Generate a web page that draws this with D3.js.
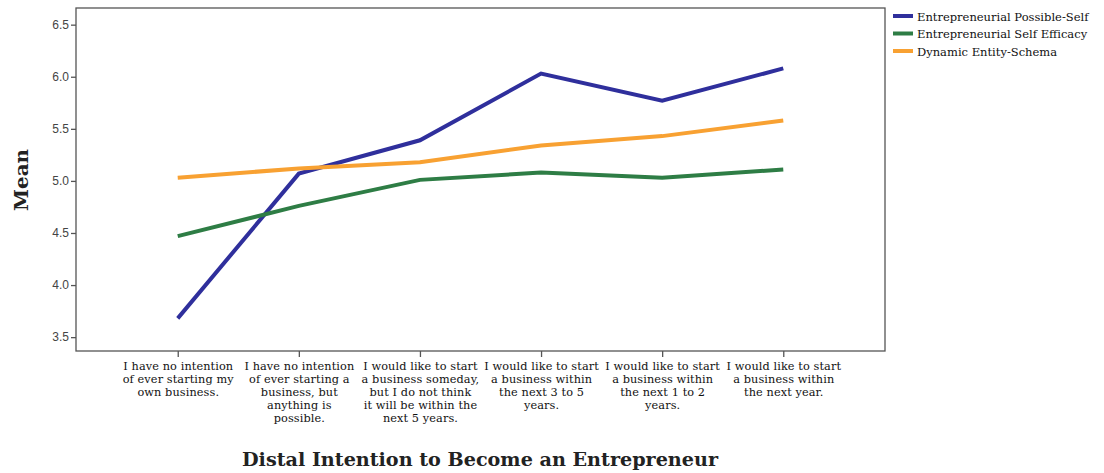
<!DOCTYPE html>
<html>
<head>
<meta charset="utf-8">
<script src="https://cdn.jsdelivr.net/npm/d3@7"></script>
<style>
  body { margin: 0; background: #fff; }
  svg { display: block; }
</style>
</head>
<body>
<div id="chart"></div>
<script>
var categories = [
  ["I have no intention", "of ever starting my", "own business."],
  ["I have no intention", "of ever starting a", "business, but", "anything is", "possible."],
  ["I would like to start", "a business someday,", "but I  do not think", "it will be within the", "next 5 years."],
  ["I would like to start", "a business within", "the next 3 to 5", "years."],
  ["I would like to start", "a business within", "the next 1 to 2", "years."],
  ["I would like to start", "a business within", "the next year."]
];
var seriesNames = ["Entrepreneurial Possible-Self", "Entrepreneurial Self Efficacy", "Dynamic Entity-Schema"];
var possibleSelf = [3.68, 5.07, 5.39, 6.03, 5.77, 6.08];
var selfEfficacy = [4.47, 4.76, 5.01, 5.08, 5.03, 5.11];
var entitySchema = [5.03, 5.12, 5.18, 5.34, 5.43, 5.58];
var yTicks = [3.5, 4.0, 4.5, 5.0, 5.5, 6.0, 6.5];
var colors = ["#2f2f9c", "#2e7d45", "#f8a132"];

var allSeries = [possibleSelf, selfEfficacy, entitySchema];

var width = 1104, height = 473;
var plot = {left: 76, right: 885, top: 8, bottom: 351};
var serif = "DejaVu Serif, serif";

var svg = d3.select("#chart")
  .append("svg")
    .attr("width", width)
    .attr("height", height);

var x = d3.scalePoint()
  .domain(d3.range(categories.length))
  .range([plot.left, plot.right])
  .padding(0.84);

var y = d3.scaleLinear()
  .domain([3.367, 6.66])
  .range([plot.bottom, plot.top]);

// frame
svg.append("rect")
  .attr("x", plot.left)
  .attr("y", plot.top)
  .attr("width", plot.right - plot.left)
  .attr("height", plot.bottom - plot.top)
  .attr("fill", "#fff")
  .attr("stroke", "#555")
  .attr("stroke-width", 1.3);

// y axis
var yAxis = svg.append("g")
  .attr("transform", "translate(" + plot.left + ",0)")
  .call(d3.axisLeft(y).tickValues(yTicks).tickFormat(d3.format(".1f")).tickSize(5).tickPadding(2));
yAxis.select(".domain").remove();
yAxis.selectAll("line").attr("stroke", "#555").attr("stroke-width", 1.3);
yAxis.selectAll("text")
  .attr("font-family", "Liberation Sans, Arial, sans-serif")
  .attr("font-size", 12)
  .attr("fill", "#444");

// x axis
var xAxis = svg.append("g")
  .attr("transform", "translate(0," + plot.bottom + ")")
  .call(d3.axisBottom(x).tickSize(6).tickFormat(""));
xAxis.select(".domain").remove();
xAxis.selectAll("line").attr("stroke", "#555").attr("stroke-width", 1.3);

xAxis.selectAll(".tick").each(function(d) {
  var t = d3.select(this).append("text")
    .attr("text-anchor", "middle")
    .attr("font-family", serif)
    .attr("font-size", 11.3)
    .attr("letter-spacing", 0.1)
    .attr("fill", "#111");
  categories[d].forEach(function(line, i) {
    t.append("tspan")
      .attr("x", 0)
      .attr("y", 19 + i * 13)
      .text(line);
  });
});

// lines
var line = d3.line()
  .x(function(d, i) { return x(i); })
  .y(function(d) { return y(d); });

allSeries.forEach(function(s, k) {
  svg.append("path")
    .datum(s)
    .attr("fill", "none")
    .attr("stroke", colors[k])
    .attr("stroke-width", 4)
    .attr("d", line);
});

// axis titles
svg.append("text")
  .attr("transform", "translate(28,180) rotate(-90)")
  .attr("text-anchor", "middle")
  .attr("font-family", serif)
  .attr("font-weight", "bold")
  .attr("font-size", 18)
  .attr("textLength", 62)
  .attr("lengthAdjust", "spacingAndGlyphs")
  .attr("fill", "#222")
  .text("Mean");

svg.append("text")
  .attr("x", 480)
  .attr("y", 466)
  .attr("text-anchor", "middle")
  .attr("font-family", serif)
  .attr("font-weight", "bold")
  .attr("font-size", 18)
  .attr("textLength", 476)
  .attr("lengthAdjust", "spacingAndGlyphs")
  .attr("fill", "#222")
  .text("Distal Intention to Become an Entrepreneur");

// legend
var legend = svg.append("g").attr("transform", "translate(893,16)");
seriesNames.forEach(function(name, k) {
  var g = legend.append("g").attr("transform", "translate(0," + k * 17.5 + ")");
  g.append("line")
    .attr("x1", 0).attr("x2", 20)
    .attr("y1", 0).attr("y2", 0)
    .attr("stroke", colors[k])
    .attr("stroke-width", 4);
  g.append("text")
    .attr("x", 24)
    .attr("y", 4.5)
    .attr("font-family", serif)
    .attr("font-size", 11.5)
    .attr("fill", "#111")
    .text(name);
});
</script>
</body>
</html>
